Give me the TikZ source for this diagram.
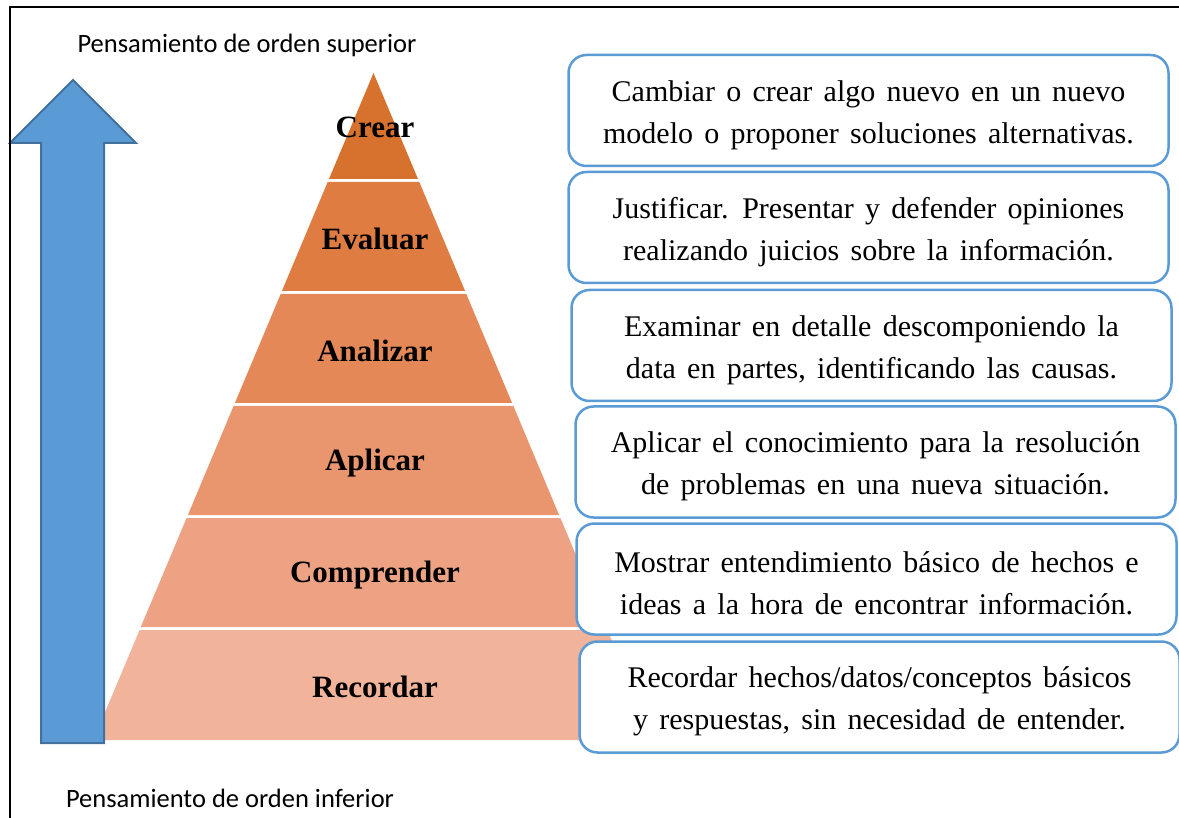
\documentclass[tikz,border=0pt]{standalone}
\usepackage{fontspec}
\setmainfont{Liberation Serif}[WordSpace=1.5]
\newfontfamily\calibrifont{Carlito}
\usetikzlibrary{positioning}

\definecolor{crearcol}{RGB}{215,113,46}
\definecolor{evaluarcol}{RGB}{222,124,66}
\definecolor{analizarcol}{RGB}{228,136,87}
\definecolor{aplicarcol}{RGB}{233,149,110}
\definecolor{comprendercol}{RGB}{237,162,131}
\definecolor{recordarcol}{RGB}{242,179,155}
\definecolor{arrowfill}{RGB}{91,155,213}
\definecolor{arrowline}{RGB}{65,113,156}
\definecolor{boxline}{RGB}{91,155,213}

\begin{document}
\begin{tikzpicture}[
    x=1pt, y=-1pt,
    level/.style={font=\fontsize{31}{36}\selectfont\bfseries},
    descbox/.style={draw=boxline, line width=2.5pt, fill=white, rounded corners=18pt,
        minimum width=600pt, minimum height=111pt, align=center, inner sep=0pt,
        font=\fontsize{30}{42}\selectfont},
    sidelabel/.style={font=\calibrifont\fontsize{26.5}{30}\selectfont}
]
    \useasboundingbox (0,0) rectangle (1179,818);

    % pyramid tiers
    \fill[crearcol] (373.5,73) -- (418.0,179) -- (329.0,179) -- cycle;
    \fill[evaluarcol] (327.7,182) -- (419.3,182) -- (465.1,291) -- (281.9,291) -- cycle;
    \fill[analizarcol] (280.7,294) -- (466.3,294) -- (512.1,403) -- (234.9,403) -- cycle;
    \fill[aplicarcol] (233.6,406) -- (513.4,406) -- (559.1,515) -- (187.9,515) -- cycle;
    \fill[comprendercol] (186.6,518) -- (560.4,518) -- (606.2,627) -- (140.8,627) -- cycle;
    \fill[recordarcol] (139.6,630) -- (607.4,630) -- (653.6,740) -- (93.4,740) -- cycle;

    \node[level] (crear) at (375,127) {Crear};
    \node[level] (evaluar) at (375,239) {Evaluar};
    \node[level] (analizar) at (375,351) {Analizar};
    \node[level] (aplicar) at (375,463) {Aplicar};
    \node[level] (comprender) at (375,575) {Comprender};
    \node[level] (recordar) at (375,687) {Recordar};

    % up arrow
    \filldraw[fill=arrowfill, draw=arrowline, line width=2pt]
        (41,743) -- (41,143) -- (10,143) -- (73,80) -- (136,143)
        -- (104,143) -- (104,743) -- cycle;

    \node[sidelabel] (superior) at (247,45) {Pensamiento de orden superior};
    \node[sidelabel] (inferior) at (230,798) {Pensamiento de orden inferior};

    % descriptions
    \node[descbox] (dcrear) at (868.5,110.5)
        {\rule{0pt}{30pt}Cambiar o crear algo nuevo en un nuevo\\modelo o proponer soluciones alternativas.};
    \node[descbox] (devaluar) at (868.5,227.5)
        {\rule{0pt}{30pt}Justificar. Presentar y defender opiniones\\realizando juicios sobre la información.};
    \node[descbox] (danalizar) at (871.5,345.5)
        {\rule{0pt}{30pt}Examinar en detalle descomponiendo la\\data en partes, identificando las causas.};
    \node[descbox] (daplicar) at (875.5,462)
        {\rule{0pt}{30pt}Aplicar el conocimiento para la resolución\\de problemas en una nueva situación.};
    \node[descbox] (dcomprender) at (876.5,579)
        {\rule{0pt}{30pt}Mostrar entendimiento básico de hechos e\\ideas a la hora de encontrar información.};
    \node[descbox] (drecordar) at (879.5,697)
        {\rule{0pt}{30pt}Recordar hechos/datos/conceptos básicos\\y respuestas, sin necesidad de entender.};

    % frame
    \draw[line width=2.5pt] (1179,7) -- (10,7) -- (10,818);
\end{tikzpicture}
\end{document}
